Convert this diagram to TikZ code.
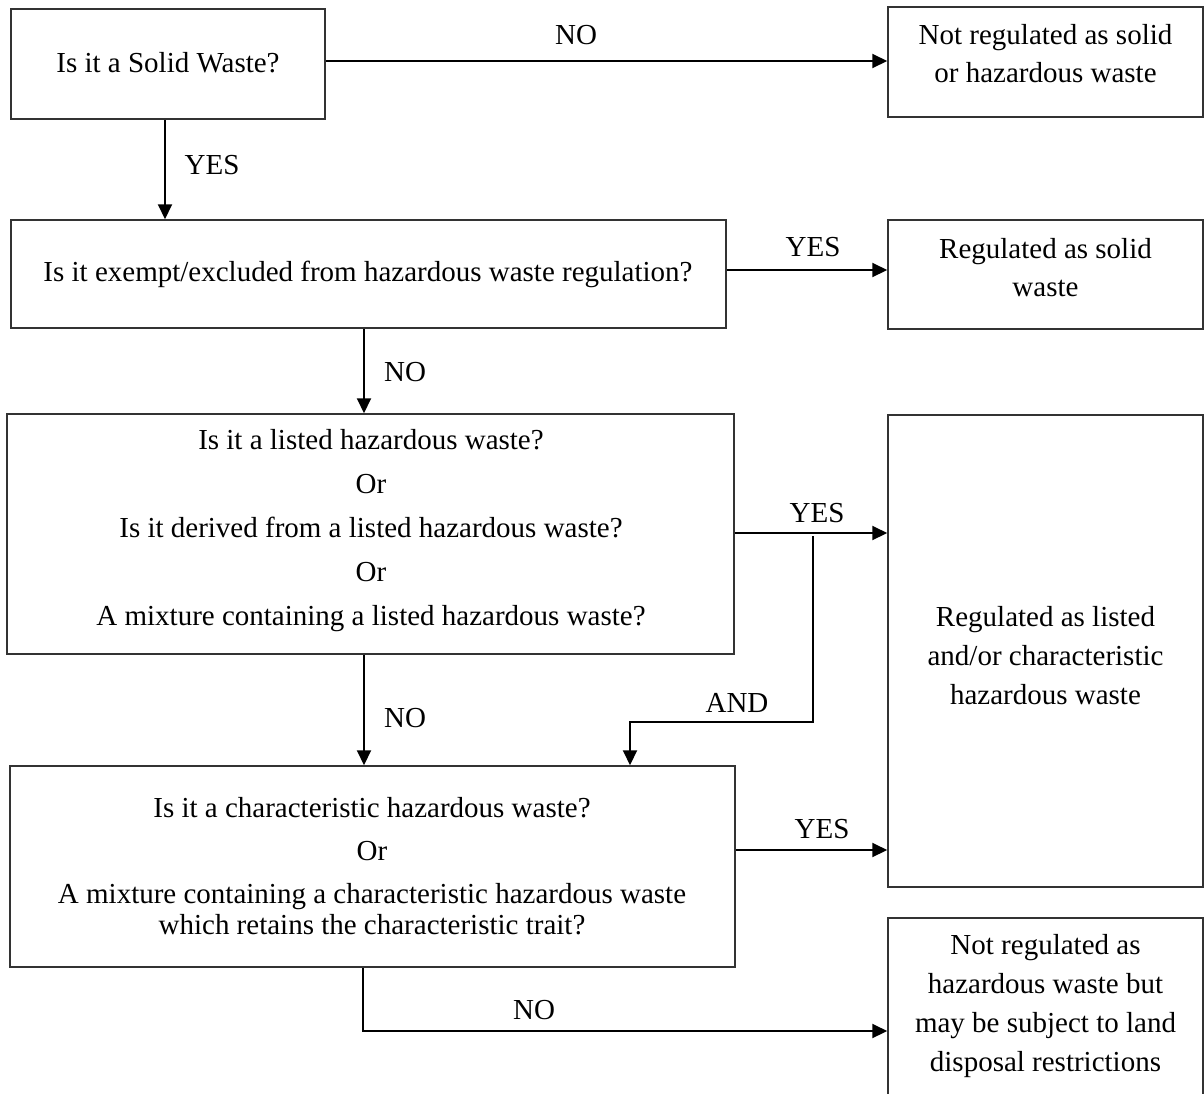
\documentclass[tikz,border=0pt]{standalone}
\usepackage{fontspec}
\setmainfont{Liberation Serif}
\usetikzlibrary{arrows.meta}
\begin{document}
\begin{tikzpicture}[x=1pt,y=-1pt,
 box/.style={draw=black!80, line width=1.5pt, inner sep=0pt},
 txt/.style={align=center, font=\fontsize{29}{38}\selectfont, inner sep=0pt},
 lbl/.style={font=\fontsize{29}{34}\selectfont, inner sep=0pt},
 arr/.style={line width=2pt, -{Triangle[length=15pt,width=14pt]}}]
\useasboundingbox (0,0) rectangle (1204,1093);

% boxes
\node[box, minimum width=314pt, minimum height=110pt] (b1) at (168,64) {};
\node[box, minimum width=315pt, minimum height=110pt] (nr) at (1045.5,62) {};
\node[box, minimum width=715pt, minimum height=108pt] (b2) at (368.5,274) {};
\node[box, minimum width=315pt, minimum height=109pt] (rs) at (1045.5,274.5) {};
\node[box, minimum width=727pt, minimum height=240pt] (b3) at (370.5,534) {};
\node[box, minimum width=315pt, minimum height=472pt] (big) at (1045.5,651) {};
\node[box, minimum width=725pt, minimum height=201pt] (b4) at (372.5,866.5) {};
\node[box, minimum width=315pt, minimum height=192pt] (nd) at (1045.5,1014) {};

% texts
\node[txt] (t1) at (168,63) {Is it a Solid Waste?};
\node[txt] (tnr) at (1045.5,54) {Not regulated as solid\\or hazardous waste};
\node[txt] (t2) at (368,274) {Is it exempt/excluded from hazardous waste regulation?};
\node[txt] (trs) at (1045.5,268) {Regulated as solid\\waste};
\node[txt, font=\fontsize{29}{44}\selectfont] (t3) at (371,531) {Is it a listed hazardous waste?\\Or\\Is it derived from a listed hazardous waste?\\Or\\A mixture containing a listed hazardous waste?};
\node[txt, font=\fontsize{29}{39}\selectfont] (tbig) at (1045.5,656) {Regulated as listed\\and/or characteristic\\hazardous waste};
\node[txt, font=\fontsize{29}{31}\selectfont] (t4) at (372,866) {Is it a characteristic hazardous waste?\\[12pt]Or\\[12pt]A mixture containing a characteristic hazardous waste\\which retains the characteristic trait?};
\node[txt, font=\fontsize{29}{39}\selectfont] (tnd) at (1045.5,1006) {Not regulated as\\hazardous waste but\\may be subject to land\\disposal restrictions};

% labels
\node[lbl] (l1) at (576,35) {NO};
\node[lbl] (l2) at (212,165) {YES};
\node[lbl] (l3) at (813,247) {YES};
\node[lbl] (l4) at (405,372) {NO};
\node[lbl] (l5) at (817,513) {YES};
\node[lbl] (l6) at (737,703) {AND};
\node[lbl] (l7) at (405,718) {NO};
\node[lbl] (l8) at (822,829) {YES};
\node[lbl] (l9) at (534,1010) {NO};

% connectors
\draw[arr] ([yshift=3pt]b1.east) -- ([yshift=3pt]b1.east -| nr.west);
\draw[arr] ([xshift=-3pt]b1.south) -- ([xshift=-3pt]b1.south |- b2.north);
\draw[arr] ([yshift=4pt]b2.east) -- ([yshift=4pt]b2.east -| rs.west);
\draw[arr] ([xshift=-4.5pt]b2.south) -- ([xshift=-4.5pt]b2.south |- b3.north);
\draw[arr] ([yshift=1pt]b3.east) -- ([yshift=1pt]b3.east -| big.west);
\coordinate (j) at (813,536);
\coordinate (a2) at (630,722);
\draw[arr] (j) |- (a2) -- (a2 |- b4.north);
\draw[arr] ([xshift=-6.5pt]b3.south) -- ([xshift=-6.5pt]b3.south |- b4.north);
\draw[arr] ([yshift=16.5pt]b4.east) -- ([yshift=16.5pt]b4.east -| big.west);
\coordinate (nb) at (363,1031);
\draw[arr] ([xshift=-9.5pt]b4.south) |- (nb -| nd.west);
\end{tikzpicture}
\end{document}
